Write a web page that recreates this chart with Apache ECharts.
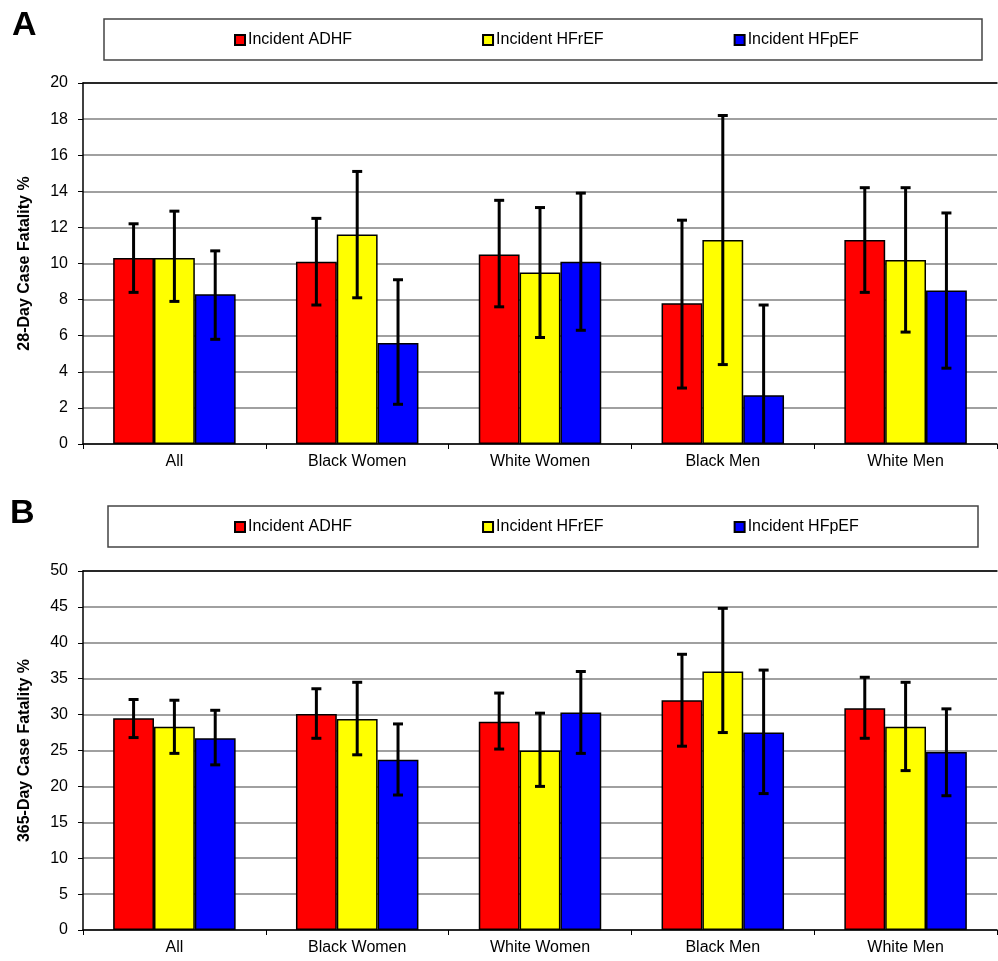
<!DOCTYPE html>
<html>
<head>
<meta charset="utf-8">
<script src="https://cdn.jsdelivr.net/npm/echarts@6/dist/echarts.min.js"></script>
<style>
html,body{margin:0;padding:0;background:#fff;}
#main{width:998px;height:961px;}
</style>
</head>
<body>
<div id="main"></div>
<script>
var categories = ['All', 'Black Women', 'White Women', 'Black Men', 'White Men'];
var seriesNames = ['Incident ADHF', 'Incident HFrEF', 'Incident HFpEF'];

// A: 28-day case fatality %
var adhf28 = [10.3, 10.1, 10.5, 7.8, 11.3];
var adhf28Lo = [8.4, 7.7, 7.6, 3.1, 8.4];
var adhf28Hi = [12.2, 12.5, 13.5, 12.4, 14.2];
var hfref28 = [10.3, 11.6, 9.5, 11.3, 10.2];
var hfref28Lo = [7.9, 8.1, 5.9, 4.4, 6.2];
var hfref28Hi = [12.9, 15.1, 13.1, 18.2, 14.2];
var hfpef28 = [8.3, 5.6, 10.1, 2.7, 8.5];
var hfpef28Lo = [5.8, 2.2, 6.3, -2.3, 4.2];
var hfpef28Hi = [10.7, 9.1, 13.9, 7.7, 12.8];

// B: 365-day case fatality %
var adhf365 = [29.5, 30.1, 29.0, 32.0, 30.9];
var adhf365Lo = [26.8, 26.7, 25.2, 25.6, 26.7];
var adhf365Hi = [32.1, 33.6, 33.0, 38.4, 35.2];
var hfref365 = [28.3, 29.4, 25.0, 36.0, 28.3];
var hfref365Lo = [24.6, 24.4, 20.0, 27.5, 22.2];
var hfref365Hi = [32.0, 34.5, 30.2, 44.8, 34.5];
var hfpef365 = [26.7, 23.7, 30.3, 27.5, 24.8];
var hfpef365Lo = [23.0, 18.8, 24.6, 19.0, 18.7];
var hfpef365Hi = [30.6, 28.7, 36.0, 36.2, 30.8];

var colors = ['#ff0000', '#ffff00', '#0000ff'];
var font = 'Liberation Sans, Arial, sans-serif';
var catGap = 0.33;

var myChart = echarts.init(document.getElementById('main'));

//柱子
function barSeries(idx, values, g){
	return {
		name: seriesNames[idx], type: 'bar', xAxisIndex: g * 2, yAxisIndex: g,
		data: values, barGap: '0%', barCategoryGap: '33%',
		itemStyle: {color: colors[idx], borderColor: '#000', borderWidth: 1.5},
		emphasis: {disabled: true}
	};
}

//误差线
function errSeries(idx, lo, hi, g){
	var data = [];
	for (var i = 0; i < lo.length; i++) {
		data.push([i, lo[i], hi[i]]);
	}
	return {
		type: 'custom', xAxisIndex: g * 2, yAxisIndex: g, z: 10, clip: true,
		data: data, encode: {x: 0, y: [1, 2]},
		renderItem: function(params, api){
			var x = api.value(0);
			var pLo = api.coord([x, api.value(1)]);
			var pHi = api.coord([x, api.value(2)]);
			var band = api.size([1, 0])[0];
			var barW = band * (1 - catGap) / 3;
			var cx = pLo[0] + (idx - 1) * barW;
			var cap = 5;
			var st = {stroke: '#000', lineWidth: 3};
			return {type: 'group', children: [
				{type: 'line', shape: {x1: cx, y1: pLo[1], x2: cx, y2: pHi[1]}, style: st},
				{type: 'line', shape: {x1: cx - cap, y1: pHi[1], x2: cx + cap, y2: pHi[1]}, style: st},
				{type: 'line', shape: {x1: cx - cap, y1: pLo[1], x2: cx + cap, y2: pLo[1]}, style: st}
			]};
		}
	};
}

function catAxis(g){
	return {
		type: 'category', gridIndex: g, data: categories,
		axisLine: {lineStyle: {color: '#000', width: 1.5}},
		axisTick: {show: true, length: 5, lineStyle: {color: '#000'}},
		axisLabel: {color: '#000', fontSize: 16, fontFamily: font, margin: 10}
	};
}
function topAxis(g){
	return {
		type: 'category', gridIndex: g, position: 'top', data: categories,
		axisLine: {lineStyle: {color: '#000', width: 1.5}},
		axisTick: {show: false}, axisLabel: {show: false}
	};
}
function valAxis(g, max, step, title){
	return {
		type: 'value', gridIndex: g, min: 0, max: max, interval: step,
		name: title, nameLocation: 'middle', nameGap: 50,
		nameTextStyle: {color: '#000', fontSize: 16, fontWeight: 'bold', fontFamily: font},
		axisLine: {show: true, lineStyle: {color: '#000', width: 1.5}},
		axisTick: {show: true, length: 5, lineStyle: {color: '#000'}},
		axisLabel: {color: '#000', fontSize: 16, fontFamily: font, margin: 15},
		splitLine: {lineStyle: {color: '#808080', width: 1.5}}
	};
}
function legendOf(top){
	return {
		data: seriesNames, left: 234, top: top, padding: 0, icon: 'rect',
		itemWidth: 10, itemHeight: 10, itemGap: 130,
		textStyle: {color: '#000', fontSize: 16, fontFamily: font, padding: [0, 0, 0, -2]},
		selectedMode: false
	};
}

var option = {
	animation: false,
	backgroundColor: '#fff',
	grid: [
		{left: 83, right: 1, top: 83, bottom: 517},
		{left: 83, right: 1, top: 571, bottom: 31}
	],
	xAxis: [catAxis(0), topAxis(0), catAxis(1), topAxis(1)],
	yAxis: [
		valAxis(0, 20, 2, '28-Day Case Fatality %'),
		valAxis(1, 50, 5, '365-Day Case Fatality %')
	],
	legend: [legendOf(32), legendOf(519)],
	graphic: [
		{type: 'rect', shape: {x: 104, y: 19, width: 878, height: 41}, style: {fill: '#fff', stroke: '#444', lineWidth: 1.5}, z: -1},
		{type: 'rect', shape: {x: 108, y: 506, width: 870, height: 41}, style: {fill: '#fff', stroke: '#444', lineWidth: 1.5}, z: -1},
		{type: 'text', left: 12, top: 9, style: {text: 'A', fontSize: 34, fontWeight: 'bold', fontFamily: font, fill: '#000'}},
		{type: 'text', left: 10, top: 497, style: {text: 'B', fontSize: 34, fontWeight: 'bold', fontFamily: font, fill: '#000'}}
	],
	series: [
		barSeries(0, adhf28, 0), barSeries(1, hfref28, 0), barSeries(2, hfpef28, 0),
		errSeries(0, adhf28Lo, adhf28Hi, 0), errSeries(1, hfref28Lo, hfref28Hi, 0), errSeries(2, hfpef28Lo, hfpef28Hi, 0),
		barSeries(0, adhf365, 1), barSeries(1, hfref365, 1), barSeries(2, hfpef365, 1),
		errSeries(0, adhf365Lo, adhf365Hi, 1), errSeries(1, hfref365Lo, hfref365Hi, 1), errSeries(2, hfpef365Lo, hfpef365Hi, 1)
	]
};
myChart.setOption(option);
</script>
</body>
</html>
